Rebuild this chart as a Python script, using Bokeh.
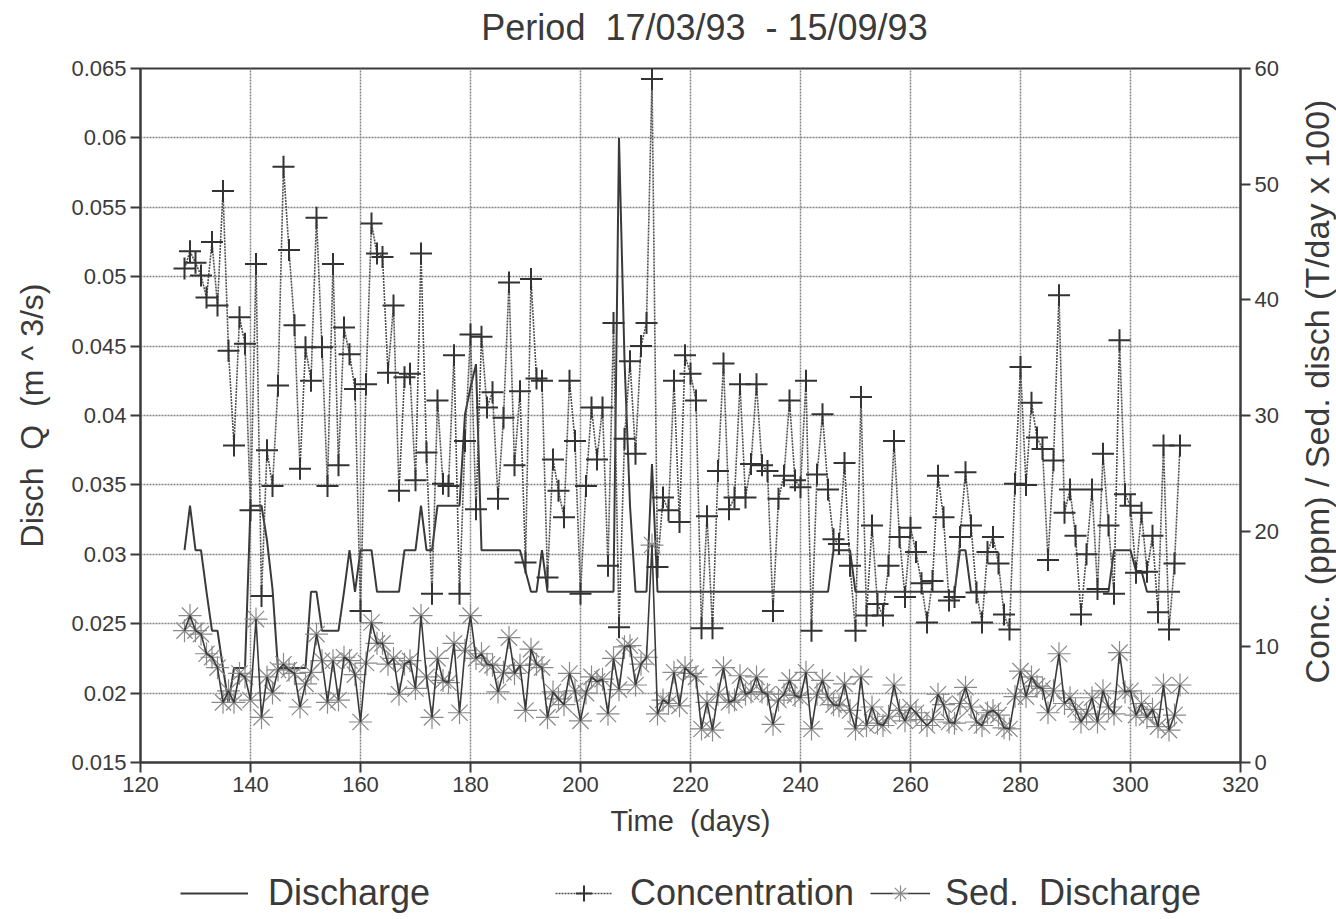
import math
from bokeh.plotting import figure
from bokeh.layouts import row, column
from bokeh.models import (Range1d, LinearAxis, FixedTicker, CustomJSTickFormatter,
                          Legend, LegendItem, ColumnDataSource)
from bokeh.core.properties import value
from bokeh.embed import file_html
from bokeh.resources import INLINE

# ---------------- data ----------------
days = list(range(128, 310))  # daily samples, day 128 .. 309

discharge = [
    0.0303, 0.0335, 0.0303, 0.0303, 0.0273, 0.0245, 0.0245, 0.0218, 0.0193, 0.0218,
    0.0218, 0.0218, 0.0335, 0.0335, 0.0335, 0.0310, 0.0275, 0.0218, 0.0218, 0.0218,
    0.0218, 0.0218, 0.0218, 0.0273, 0.0273, 0.0245, 0.0245, 0.0245, 0.0245, 0.0273,
    0.0303, 0.0273, 0.0303, 0.0303, 0.0303, 0.0273, 0.0273, 0.0273, 0.0273, 0.0273,
    0.0303, 0.0303, 0.0303, 0.0335, 0.0303, 0.0303, 0.0335, 0.0335, 0.0335, 0.0335,
    0.0335, 0.0401, 0.0420, 0.0437, 0.0303, 0.0303, 0.0303, 0.0303, 0.0303, 0.0303,
    0.0303, 0.0303, 0.0288, 0.0273, 0.0273, 0.0303, 0.0273, 0.0273, 0.0273, 0.0273,
    0.0273, 0.0273, 0.0273, 0.0273, 0.0273, 0.0273, 0.0273, 0.0273, 0.0273, 0.0600,
    0.0440, 0.0335, 0.0273, 0.0273, 0.0273, 0.0365, 0.0273, 0.0273, 0.0273, 0.0273,
    0.0273, 0.0273, 0.0273, 0.0273, 0.0273, 0.0273, 0.0273, 0.0273, 0.0273, 0.0273,
    0.0273, 0.0273, 0.0273, 0.0273, 0.0273, 0.0273, 0.0273, 0.0273, 0.0273, 0.0273,
    0.0273, 0.0273, 0.0273, 0.0273, 0.0273, 0.0273, 0.0273, 0.0273, 0.0303, 0.0303,
    0.0303, 0.0303, 0.0273, 0.0273, 0.0273, 0.0273, 0.0273, 0.0273, 0.0273, 0.0273,
    0.0273, 0.0273, 0.0273, 0.0273, 0.0273, 0.0273, 0.0273, 0.0273, 0.0273, 0.0273,
    0.0273, 0.0303, 0.0303, 0.0273, 0.0273, 0.0273, 0.0273, 0.0273, 0.0273, 0.0273,
    0.0273, 0.0273, 0.0273, 0.0273, 0.0273, 0.0273, 0.0273, 0.0273, 0.0273, 0.0273,
    0.0273, 0.0273, 0.0273, 0.0273, 0.0273, 0.0273, 0.0273, 0.0273, 0.0273, 0.0303,
    0.0303, 0.0303, 0.0303, 0.0288, 0.0288, 0.0273, 0.0273, 0.0273, 0.0273, 0.0273,
    0.0273, 0.0273,
]

concentration = [
    42.7, 44.2, 43.2, 42.1, 40.2, 45.0, 39.5, 49.4, 35.6, 27.4,
    38.5, 36.2, 21.8, 43.1, 14.4, 27.0, 23.9, 32.6, 51.5, 44.3,
    37.8, 25.4, 35.9, 33.0, 47.1, 35.9, 23.9, 43.1, 25.7, 37.6,
    35.3, 32.3, 13.1, 32.7, 46.6, 44.0, 43.7, 33.7, 39.5, 23.5,
    33.3, 33.6, 24.4, 44.0, 26.8, 14.6, 31.3, 24.1, 23.9, 35.2,
    14.6, 27.8, 37.0, 21.9, 36.8, 30.7, 32.0, 22.8, 29.8, 41.5,
    25.7, 32.1, 17.3, 41.8, 33.2, 33.0, 16.0, 26.2, 23.5, 21.2,
    33.0, 27.8, 14.6, 23.9, 30.7, 26.2, 30.7, 17.0, 38.0, 11.7,
    28.0, 34.7, 26.7, 36.0, 38.0, 59.1, 16.9, 22.9, 21.8, 33.0,
    20.8, 35.2, 33.6, 31.3, 11.6, 21.3, 11.6, 25.2, 34.5, 21.9,
    22.9, 32.7, 22.9, 25.8, 32.7, 25.7, 25.2, 13.1, 22.8, 24.8,
    31.3, 24.4, 23.8, 33.0, 11.4, 24.9, 30.1, 23.6, 19.3, 18.9,
    25.9, 17.0, 11.4, 31.6, 12.7, 20.5, 13.7, 12.7, 17.0, 27.8,
    19.5, 14.3, 20.3, 18.2, 15.5, 12.1, 15.7, 24.8, 21.2, 14.0,
    14.3, 19.5, 25.1, 20.5, 14.7, 12.1, 18.2, 19.5, 17.2, 12.8,
    11.5, 24.1, 34.2, 24.0, 31.1, 28.1, 27.1, 17.5, 26.1, 40.4,
    21.6, 23.6, 19.6, 12.8, 18.0, 23.6, 15.0, 26.7, 20.5, 14.6,
    36.5, 23.2, 22.2, 16.4, 21.6, 16.5, 19.6, 13.0, 27.4, 11.5,
    17.2, 27.4,
]

sed_discharge = [
    11.4, 12.7, 11.4, 11.1, 9.4, 9.1, 8.2, 5.2, 6.2, 5.2,
    7.7, 7.4, 5.4, 12.4, 3.9, 7.4, 6.0, 8.0, 8.5, 8.0,
    7.7, 4.8, 6.8, 7.8, 11.1, 8.8, 5.2, 8.8, 5.4, 9.1,
    8.8, 7.6, 3.5, 8.6, 12.1, 10.3, 10.3, 8.5, 9.0, 5.9,
    8.5, 8.8, 6.4, 12.7, 7.4, 3.9, 9.0, 7.1, 6.9, 10.3,
    4.3, 9.7, 12.7, 9.0, 9.4, 8.5, 8.4, 6.1, 7.8, 10.8,
    7.7, 8.4, 4.5, 9.8, 8.5, 8.2, 3.9, 6.1, 5.5, 5.0,
    7.7, 6.2, 3.6, 6.0, 7.4, 7.0, 7.2, 4.2, 9.0, 6.3,
    10.0, 10.1, 6.7, 8.5, 9.1, 18.8, 4.2, 5.4, 5.1, 7.8,
    4.9, 8.2, 7.7, 7.4, 2.9, 5.2, 2.8, 5.9, 8.2, 5.2,
    5.4, 7.5, 5.9, 6.1, 7.4, 6.1, 5.9, 3.3, 5.4, 5.9,
    7.1, 5.8, 5.6, 7.8, 2.9, 5.9, 7.1, 5.6, 5.0, 4.9,
    6.8, 4.5, 2.9, 7.4, 3.2, 4.8, 3.4, 3.2, 4.0, 6.7,
    4.5, 3.6, 4.8, 4.3, 3.7, 3.2, 3.7, 5.9, 5.0, 3.5,
    3.4, 5.1, 6.5, 4.8, 3.5, 3.2, 4.3, 4.5, 4.1, 3.0,
    2.9, 5.7, 7.9, 5.7, 7.4, 6.6, 6.4, 4.3, 6.2, 9.4,
    5.1, 5.6, 4.6, 3.5, 4.2, 5.6, 3.5, 6.2, 4.8, 4.2,
    9.5, 6.1, 6.2, 4.1, 5.1, 3.9, 4.6, 3.1, 6.7, 2.8,
    4.1, 6.7,
]

x_ticks = [120, 140, 160, 180, 200, 220, 240, 260, 280, 300, 320]
q_ticks = [0.015, 0.02, 0.025, 0.03, 0.035, 0.04, 0.045, 0.05, 0.055, 0.06, 0.065]
r_ticks = [0, 10, 20, 30, 40, 50, 60]

NB = "\u00a0"
title_text = "Period" + NB * 2 + "17/03/93" + NB * 2 + "- 15/09/93"
x_label = "Time" + NB * 2 + "(days)"
left_label = "Disch" + NB * 2 + "Q" + NB * 2 + "(m ^ 3/s)"
right_label = "Conc. (ppm) / Sed. disch (T/day x 100)"
legend_labels = ["Discharge", "Concentration", "Sed." + NB * 2 + "Discharge"]

# ---------------- styling ----------------
FONT = "Liberation Sans"
INK = "#3a3a3a"
W = 1336
TITLE_H = 50
LEG_H = 57
MAIN_W = 1286
MAIN_H = 919 - TITLE_H - LEG_H   # 812


def strip(width, height):
    f = figure(width=width, height=height,
               x_range=Range1d(0, width), y_range=Range1d(0, height),
               output_backend="svg", toolbar_location=None, min_border=0,
               x_axis_type=None, y_axis_type=None)
    f.outline_line_color = None
    f.background_fill_color = "white"
    f.border_fill_color = "white"
    return f


# ---------------- title strip ----------------
pt = strip(W, TITLE_H)
pt.text(x=[704], y=[TITLE_H - 27], text=[title_text],
        text_align="center", text_baseline="middle",
        text_font=value(FONT), text_font_size="36px", text_color=INK)

# ---------------- main plot ----------------
p = figure(width=MAIN_W, height=MAIN_H,
           x_range=Range1d(120, 320), y_range=Range1d(0.015, 0.065),
           output_backend="svg", toolbar_location=None,
           min_border_left=140, min_border_right=46,
           min_border_top=18, min_border_bottom=100)
p.title.text = ""
p.extra_y_ranges = {"right": Range1d(0, 60)}
p.background_fill_color = "white"
p.border_fill_color = "white"
p.outline_line_color = INK
p.outline_line_width = 2

p.xaxis.ticker = FixedTicker(ticks=x_ticks)
p.yaxis.ticker = FixedTicker(ticks=q_ticks)
p.yaxis.formatter = CustomJSTickFormatter(code="return tick.toFixed(3).replace(/0+$/, '');")
p.xaxis.axis_label = x_label
p.yaxis.axis_label = left_label

ax_r = LinearAxis(y_range_name="right", ticker=FixedTicker(ticks=r_ticks))
p.add_layout(ax_r, "right")

for ax in [p.xaxis[0], p.yaxis[0], ax_r]:
    ax.axis_line_color = INK
    ax.axis_line_width = 2
    ax.major_tick_line_color = INK
    ax.major_tick_line_width = 2
    ax.major_tick_out = 10
    ax.major_tick_in = 0
    ax.minor_tick_line_color = None
    ax.major_label_text_font = FONT
    ax.major_label_text_font_size = "22px"
    ax.major_label_text_color = INK
    ax.major_label_standoff = 4
    ax.axis_label_text_font = FONT
    ax.axis_label_text_font_style = "normal"
    ax.axis_label_text_color = INK
p.xaxis.axis_label_text_font_size = "29px"
p.xaxis.axis_label_standoff = 10
p.yaxis.axis_label_text_font_size = "32px"
p.yaxis.axis_label_standoff = 18

for g in [p.xgrid[0], p.ygrid[0]]:
    g.grid_line_color = "#858585"
    g.grid_line_width = 1.5
    g.grid_line_dash = "2 1"
p.xgrid.ticker = FixedTicker(ticks=x_ticks)
p.ygrid.ticker = FixedTicker(ticks=q_ticks)

src = ColumnDataSource(dict(day=days, q=discharge, c=concentration, s=sed_discharge))

Q_STYLE = dict(line_color=INK, line_width=2)
C_LINE = dict(line_color="#505050", line_width=1.6, line_dash="2 1")
C_PTS = dict(marker="cross", size=22, line_color="#333333", line_width=2)
S_PTS = dict(marker="asterisk", size=23, line_color="#8a8a8a", line_width=1.2)
S_LINE = dict(line_color=INK, line_width=1.6)

p.line("day", "q", source=src, **Q_STYLE)
p.line("day", "c", source=src, y_range_name="right", **C_LINE)
p.scatter("day", "c", source=src, y_range_name="right", **C_PTS)
p.scatter("day", "s", source=src, y_range_name="right", **S_PTS)
p.line("day", "s", source=src, y_range_name="right", **S_LINE)

# ---------------- right axis title (reads bottom-to-top) ----------------
ps = strip(W - MAIN_W, MAIN_H)
ps.text(x=[30], y=[MAIN_H - (390 - TITLE_H) - 38], text=[right_label], angle=math.pi / 2,
        text_align="center", text_baseline="middle",
        text_font=value(FONT), text_font_size="34px", text_color=INK)

# ---------------- legend strip ----------------
pl = strip(W, LEG_H)
off = [-500]
lq = pl.line(off, off, **Q_STYLE)
lc1 = pl.line(off, off, **C_LINE)
lc2 = pl.scatter(off, off, **C_PTS)
ls1 = pl.line(off, off, **S_LINE)
ls2 = pl.scatter(off, off, **S_PTS)

leg_specs = [
    (legend_labels[0], [lq], 180, 68, 20),
    (legend_labels[1], [lc1, lc2], 555, 57, 18),
    (legend_labels[2], [ls1, ls2], 870, 60, 15),
]
for lab, rends, lx, gw, so in leg_specs:
    lg = Legend(items=[LegendItem(label=lab, renderers=rends)], location=(lx, 5))
    lg.label_text_font = FONT
    lg.label_text_font_size = "36px"
    lg.label_text_color = INK
    lg.glyph_width = gw
    lg.glyph_height = 40
    lg.label_standoff = so
    lg.padding = 0
    lg.margin = 0
    lg.border_line_color = None
    lg.background_fill_alpha = 0
    pl.add_layout(lg)

layout = column(pt, row(p, ps), pl)
open("out.html", "w").write(file_html(layout, INLINE))
